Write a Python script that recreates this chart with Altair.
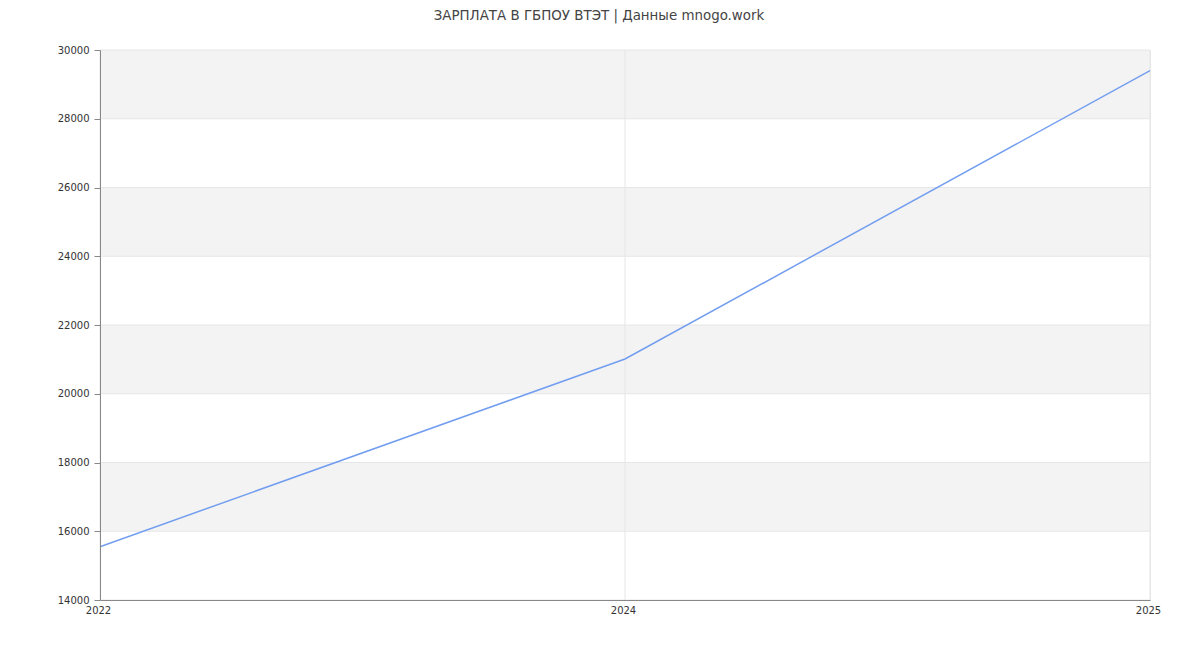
import altair as alt
import pandas as pd

years = ["2022", "2024", "2025"]
salary = [15550, 21010, 29400]

band_start = [16000, 20000, 24000, 28000]
band_end = [18000, 22000, 26000, 30000]

y_ticks = list(range(14000, 30001, 2000))

line_df = pd.DataFrame({"year": years, "salary": salary})
band_df = pd.DataFrame({"y1": band_start, "y2": band_end})
grid_df = pd.DataFrame({"tick": y_ticks})
vgrid_df = pd.DataFrame({"year": years})

font = "DejaVu Sans"

yscale = alt.Scale(domain=[14000, 30000], nice=False, zero=False)
xscale = alt.Scale(type="point", domain=years, padding=0)

bands = alt.Chart(band_df).mark_rect(color="#f3f3f3").encode(
    y=alt.Y("y1:Q", scale=yscale),
    y2="y2:Q",
)

hgrid = alt.Chart(grid_df).mark_rule(color="#e6e6e6", strokeWidth=1).encode(
    y=alt.Y("tick:Q", scale=yscale),
)

vgrid = alt.Chart(vgrid_df).mark_rule(color="#e6e6e6", strokeWidth=1).encode(
    x=alt.X("year:O", scale=xscale, sort=years),
)

line = alt.Chart(line_df).mark_line(color="#739ef0", strokeWidth=1.5).encode(
    x=alt.X("year:O", scale=xscale, sort=years,
            axis=alt.Axis(title=None, labelAngle=0, tickSize=0, labelPadding=10,
                          labelAlign="center", labelOffset=-2, labelFlush=False,
                          grid=False, zindex=1, domainColor="#888888",
                          labelColor="#333333", labelFontSize=10, labelFont=font)),
    y=alt.Y("salary:Q", scale=yscale,
            axis=alt.Axis(title=None, values=y_ticks,
                          tickSize=6, tickColor="#888888", labelPadding=5,
                          labelFlush=False, grid=False, zindex=1,
                          domainColor="#888888",
                          labelColor="#333333", labelFontSize=10, labelFont=font,
                          format="d")),
)

chart = alt.layer(bands, hgrid, vgrid, line).properties(
    width=1050,
    height=550,
    autosize=alt.AutoSizeParams(type="none"),
    padding={"left": 92, "top": 42, "right": 42, "bottom": 42},
    title=alt.TitleParams(
        "ЗАРПЛАТА В ГБПОУ ВТЭТ | Данные mnogo.work",
        font=font, fontSize=13.4, fontWeight="normal", color="#444444",
        anchor="middle", dx=-26, offset=23,
    ),
).configure_view(stroke="#e6e6e6")

chart.save("out.html", embed_options={"renderer": "svg", "actions": False})
